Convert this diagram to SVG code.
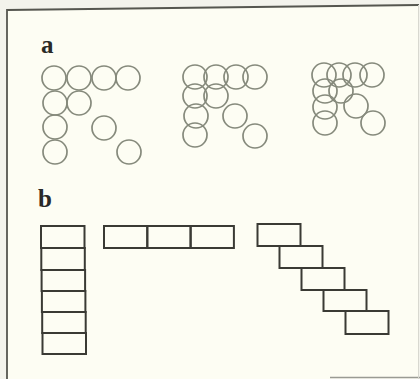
<svg xmlns="http://www.w3.org/2000/svg" width="420" height="379" viewBox="0 0 420 379">
<style>
.c{fill:none;stroke:#868a7c;stroke-width:1.7}
.r{fill:none;stroke:#3a3a34;stroke-width:2}
.lbl{font-family:"Liberation Serif",serif;font-weight:bold;font-size:25px;fill:#2a2a26}
.frame{fill:none;stroke:#55564f;stroke-width:1.8}
</style>
<rect x="0" y="0" width="420" height="379" fill="#f3f3ec"/>
<polygon points="7,10 419,5 419,379 7,379" fill="#fdfdf3"/>
<polyline class="frame" points="7,379 7,10 419,5"/>
<line x1="330" y1="377.5" x2="420" y2="377.5" stroke="#9a9b94" stroke-width="1.5"/>
<line x1="418.5" y1="5" x2="418.5" y2="379" stroke="#d8d8d0" stroke-width="1"/>
<text class="lbl" x="41" y="53">a</text>
<text class="lbl" x="38" y="207">b</text>
<g id="a1">
<circle class="c" cx="54" cy="78" r="12"/><circle class="c" cx="79" cy="78" r="12"/><circle class="c" cx="104" cy="78" r="12"/><circle class="c" cx="128" cy="78" r="12"/>
<circle class="c" cx="55" cy="103" r="12"/><circle class="c" cx="79" cy="103" r="12"/>
<circle class="c" cx="55" cy="127" r="12"/><circle class="c" cx="104" cy="128" r="12"/>
<circle class="c" cx="55" cy="152" r="12"/><circle class="c" cx="129" cy="152" r="12"/>
</g>
<g id="a2">
<circle class="c" cx="195" cy="77" r="12"/><circle class="c" cx="216" cy="77" r="12"/><circle class="c" cx="236" cy="77" r="12"/><circle class="c" cx="255" cy="77" r="12"/>
<circle class="c" cx="195" cy="96" r="12"/><circle class="c" cx="216" cy="96" r="12"/>
<circle class="c" cx="196" cy="116" r="12"/><circle class="c" cx="235" cy="116" r="12"/>
<circle class="c" cx="195" cy="135" r="12"/><circle class="c" cx="255" cy="136" r="12"/>
</g>
<g id="a3">
<circle class="c" cx="324" cy="75" r="12"/><circle class="c" cx="339" cy="75" r="12"/><circle class="c" cx="355" cy="75" r="12"/><circle class="c" cx="372" cy="75" r="12"/>
<circle class="c" cx="325" cy="91" r="12"/><circle class="c" cx="341" cy="91" r="12"/>
<circle class="c" cx="325" cy="107" r="12"/><circle class="c" cx="356" cy="106" r="12"/>
<circle class="c" cx="325" cy="123" r="12"/><circle class="c" cx="373" cy="123" r="12"/>
</g>
<g id="b1">
<rect class="r" x="41" y="226" width="43.5" height="22"/>
<rect class="r" x="41.3" y="248" width="43.5" height="22"/>
<rect class="r" x="41.6" y="270" width="43.5" height="21"/>
<rect class="r" x="41.9" y="291" width="43.5" height="21"/>
<rect class="r" x="42.2" y="312" width="43.5" height="21"/>
<rect class="r" x="42.5" y="333" width="43.5" height="21"/>
</g>
<g id="b2">
<rect class="r" x="104" y="226" width="43.3" height="22"/>
<rect class="r" x="147.3" y="226" width="43.3" height="22"/>
<rect class="r" x="190.6" y="226" width="43.3" height="22"/>
</g>
<g id="b3">
<rect class="r" x="257.5" y="224" width="43" height="22"/>
<rect class="r" x="279.5" y="246" width="43" height="22"/>
<rect class="r" x="301.5" y="268" width="43" height="22"/>
<rect class="r" x="323.5" y="290" width="43" height="21"/>
<rect class="r" x="345.5" y="311" width="43" height="23"/>
</g>
</svg>
